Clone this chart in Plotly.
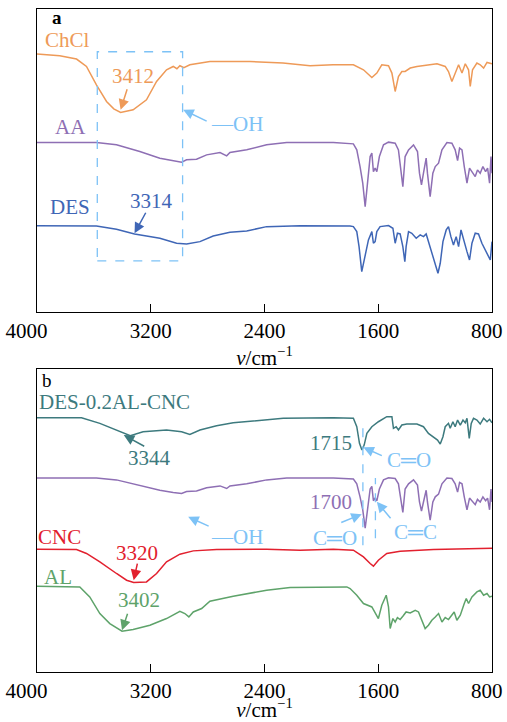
import plotly.graph_objects as go

# ---------------- FTIR spectra (wavenumber in cm-1, transmittance in a.u.) ----------------
# Panel a
chcl_wn = [4000, 3840, 3722, 3652, 3582, 3511, 3460, 3412, 3324, 3230, 3159, 3089, 3042, 3016, 2995,
           2967, 2925, 2854, 2784, 2502, 2270, 2080, 1918, 1775, 1704, 1645, 1610, 1575, 1528, 1504,
           1481, 1458, 1434, 1411, 1375, 1328, 1258, 1187, 1129, 1106, 1082, 1059, 1035, 1011, 988,
           965, 953, 937, 906, 883, 859, 835, 800]
chcl_t = [257.4, 255.7, 252.4, 245.0, 226.7, 210.0, 202.7, 199.0, 201.7, 211.7, 230.0, 241.7, 245.0, 242.7,
          245.7, 243.7, 246.7, 248.4, 250.0, 250.0, 248.4, 245.7, 246.7, 246.7, 241.7, 234.0, 238.4, 246.7,
          245.7, 238.4, 220.0, 235.0, 240.0, 240.0, 243.4, 245.0, 246.7, 247.7, 245.0, 240.0, 230.0, 238.4,
          246.7, 238.4, 247.7, 241.7, 225.0, 241.7, 248.4, 246.7, 243.4, 249.0, 247.7]

aa_wn = [4000, 3582, 3441, 3277, 3136, 3042, 2983, 2948, 2878, 2807, 2713, 2666, 2643, 2525, 2385, 2244,
         1916, 1775, 1751, 1728, 1709, 1692, 1676, 1657, 1645, 1634, 1622, 1610, 1592, 1563, 1528, 1481,
         1458, 1441, 1427, 1411, 1387, 1352, 1324, 1310, 1296, 1282, 1263, 1254, 1235, 1216, 1199, 1176,
         1152, 1117, 1082, 1059, 1042, 1028, 1011, 995, 976, 958, 934, 918, 902, 883, 864, 845, 831, 817,
         807, 800]
aa_t = [169.0, 169.0, 166.7, 160.0, 153.4, 150.7, 149.4, 151.7, 152.4, 156.7, 159.0, 155.7, 159.0, 161.7,
        166.7, 169.0, 169.0, 167.7, 161.7, 145.0, 128.4, 105.0, 125.0, 155.0, 158.4, 140.0, 143.4, 140.0,
        155.0, 166.7, 169.4, 168.4, 161.7, 141.7, 125.0, 155.0, 161.7, 166.7, 160.0, 138.4, 126.7, 138.4,
        153.4, 138.4, 115.0, 138.4, 145.0, 148.4, 161.7, 169.0, 168.4, 161.7, 151.0, 163.4, 161.7, 145.0,
        128.4, 143.4, 138.4, 135.0, 141.7, 138.4, 145.0, 140.0, 143.4, 128.4, 155.0, 138.4]

des_wn = [4000, 3582, 3441, 3314, 3230, 3136, 3018, 2948, 2854, 2761, 2643, 2525, 2385, 2150, 1798, 1775,
          1751, 1735, 1716, 1692, 1669, 1645, 1634, 1622, 1610, 1587, 1528, 1497, 1481, 1465, 1446, 1427,
          1413, 1404, 1387, 1364, 1333, 1305, 1282, 1263, 1247, 1216, 1192, 1180, 1164, 1145, 1122, 1106,
          1089, 1071, 1052, 1035, 1018, 995, 976, 958, 941, 918, 895, 871, 847, 824, 812, 800]
des_t = [86.0, 85.7, 82.4, 77.7, 75.7, 73.4, 68.4, 67.7, 70.0, 75.7, 79.4, 80.7, 85.0, 86.0, 85.7, 85.0,
         80.0, 65.0, 40.0, 55.0, 71.7, 80.0, 68.4, 70.0, 80.0, 85.0, 86.0, 83.4, 68.4, 78.4, 77.7, 65.0,
         50.0, 65.0, 80.0, 78.4, 73.4, 76.7, 75.0, 77.7, 70.0, 55.0, 45.0, 38.4, 48.4, 70.0, 81.7, 85.0,
         75.0, 66.7, 75.0, 65.0, 81.7, 68.4, 60.0, 51.7, 68.4, 78.4, 77.7, 68.4, 61.7, 55.0, 51.7, 70.0]

# Panel b
cnc_comp_wn = [4000, 3687, 3558, 3441, 3344, 3254, 3089, 2983, 2925, 2854, 2737, 2620, 2479, 2268, 1916,
               1775, 1751, 1732, 1715, 1699, 1680, 1645, 1599, 1540, 1504, 1493, 1474, 1458, 1434, 1399,
               1328, 1282, 1247, 1211, 1183, 1164, 1145, 1129, 1106, 1094, 1075, 1059, 1042, 1023, 1004,
               988, 976, 960, 946, 930, 906, 883, 859, 835, 817, 800]
cnc_comp_t = [254.0, 254.0, 248.4, 241.7, 236.0, 240.0, 241.7, 240.0, 237.4, 241.7, 246.0, 249.0, 250.7,
              253.4, 254.0, 253.4, 245.0, 228.4, 221.7, 226.7, 238.4, 245.0, 250.0, 255.0, 255.0, 243.4,
              245.0, 241.7, 246.7, 247.7, 247.7, 245.0, 238.4, 235.0, 231.7, 227.7, 235.0, 245.0, 248.4,
              243.4, 250.0, 245.0, 251.7, 246.7, 251.7, 249.0, 253.4, 233.4, 248.4, 253.4, 251.7, 247.7,
              253.4, 250.0, 252.4, 249.0]

cnc_wn = [4000, 3722, 3652, 3558, 3441, 3370, 3320, 3230, 3159, 3089, 2995, 2901, 2737, 2385, 2150, 1916,
          1775, 1704, 1657, 1634, 1599, 1540, 1446, 1211, 800]
cnc_t = [122.7, 122.4, 118.4, 110.0, 98.4, 91.7, 89.4, 90.0, 98.4, 110.0, 117.7, 121.0, 122.4, 122.7,
         121.7, 122.7, 121.7, 115.0, 108.4, 105.7, 111.7, 118.4, 120.7, 122.4, 123.7]

al_wn = [4000, 3699, 3629, 3558, 3488, 3402, 3324, 3206, 3089, 2995, 2960, 2932, 2901, 2842, 2784, 2620,
         2385, 2220, 1821, 1798, 1751, 1704, 1645, 1599, 1575, 1544, 1528, 1516, 1497, 1481, 1465, 1446,
         1427, 1404, 1375, 1340, 1317, 1293, 1270, 1247, 1223, 1199, 1176, 1152, 1129, 1106, 1082, 1066,
         1047, 1023, 995, 981, 965, 941, 906, 883, 859, 835, 817, 800]
al_t = [85.7, 85.0, 75.0, 58.4, 48.4, 40.7, 42.4, 46.7, 53.4, 60.7, 58.4, 55.0, 60.0, 63.4, 70.7, 75.7,
        81.7, 84.4, 85.0, 83.4, 76.7, 68.4, 65.0, 53.4, 66.7, 76.7, 65.0, 43.4, 53.4, 50.0, 54.4, 52.4,
        55.7, 60.0, 59.0, 61.7, 60.0, 51.7, 43.4, 46.7, 51.7, 55.0, 58.4, 50.0, 54.4, 52.4, 57.7, 60.0,
        51.7, 56.7, 68.4, 73.4, 68.4, 75.0, 80.0, 81.7, 76.7, 78.4, 75.0, 75.7]

tick_vals = [4000, 3200, 2400, 1600, 800]
tick_text = ["4000\u00a0\u00a0\u00a0\u00a0", "3200", "2400", "1600", "800\u00a0\u00a0"]

# ---------------- styling ----------------
FONT = "Liberation Serif"
C_CHCL = "#EE9A58"
C_AA = "#8E6FB4"
C_DES = "#3F66B6"
C_COMP = "#3D7A7E"
C_CNC = "#E2202E"
C_AL = "#5EA36A"
C_MARK = "#7DC2F6"
LW = 1.5

# AA curve is redrawn in panel b with a tighter vertical stacking
AA_B_SCALE = 0.78
AA_B_BASE = 169.0
AA_B_SHIFT = 193.7
aa_b_t = [AA_B_SCALE * (v - AA_B_BASE) + AA_B_SHIFT for v in aa_t]

fig = go.Figure()


def add_line(wn, t, color, xa, ya):
    fig.add_trace(go.Scatter(x=wn, y=t, mode="lines", xaxis=xa, yaxis=ya,
                             line=dict(color=color, width=LW), hoverinfo="skip",
                             showlegend=False))


add_line(chcl_wn, chcl_t, C_CHCL, "x", "y")
add_line(aa_wn, aa_t, C_AA, "x", "y")
add_line(des_wn, des_t, C_DES, "x", "y")
add_line(cnc_comp_wn, cnc_comp_t, C_COMP, "x2", "y2")
add_line(aa_wn, aa_b_t, C_AA, "x2", "y2")
add_line(cnc_wn, cnc_t, C_CNC, "x2", "y2")
add_line(al_wn, al_t, C_AL, "x2", "y2")

xcommon = dict(range=[4000, 800], tickmode="array", tickvals=tick_vals, ticktext=tick_text,
               ticks="inside", ticklen=8, tickwidth=1, tickcolor="black",
               ticklabeloverflow="allow", automargin=False,
               showline=True, mirror=True, linecolor="black", linewidth=1.2,
               showgrid=False, zeroline=False,
               tickfont=dict(family=FONT, size=21, color="black"),
               title=dict(text="<i>ν</i>/cm<sup>−1</sup>", standoff=7,
                          font=dict(family=FONT, size=21, color="black")))
ycommon = dict(range=[0, 302.4], showline=True, mirror=True, linecolor="black", linewidth=1.2,
               showgrid=False, zeroline=False, showticklabels=False, ticks="", automargin=False)

fig.update_layout(
    width=507, height=722,
    margin=dict(l=37, r=15, t=9, b=50, autoexpand=False),
    font=dict(family=FONT, size=21, color="black"),
    paper_bgcolor="white", plot_bgcolor="white",
    xaxis=dict(domain=[0, 1], anchor="y", **xcommon),
    xaxis2=dict(domain=[0, 1], anchor="y2", **xcommon),
    yaxis=dict(domain=[0.5434, 1], anchor="x", **ycommon),
    yaxis2=dict(domain=[0, 0.4566], anchor="x2", **ycommon),
)

# dashed guides
fig.add_shape(type="rect", xref="x", yref="y", x0=3576, x1=2976, y0=50.7, y1=259.7,
              line=dict(color=C_MARK, width=1.3, dash="dash"))
fig.add_shape(type="line", xref="x2", yref="y2", x0=1708, x1=1708, y0=126.7, y1=251.7,
              line=dict(color=C_MARK, width=1.3, dash="dash"))
fig.add_shape(type="line", xref="x2", yref="y2", x0=1620, x1=1620, y0=133.7, y1=193.7,
              line=dict(color=C_MARK, width=1.3, dash="dash"))


def label(text, x, y, color, xa="x", ya="y", size=21):
    fig.add_annotation(text=text, x=x, y=y, xref=xa, yref=ya, showarrow=False,
                       font=dict(family=FONT, size=size, color=color),
                       xanchor="center", yanchor="middle", borderpad=0)


def arrow(x, y, ax, ay, color, xa="x", ya="y"):
    fig.add_annotation(text="", x=x, y=y, xref=xa, yref=ya, ax=ax, ay=ay,
                       showarrow=True, arrowhead=2, arrowsize=1.4, arrowwidth=1.5,
                       arrowcolor=color)


# panel a texts
label("<b>a</b>", 3861, 293.5, "black", size=19)
label("ChCl", 3784, 271.0, C_CHCL)
label("3412", 3326, 235.7, C_CHCL)
arrow(3412, 201.7, 7, -22, C_CHCL)
label("—OH", 2594, 187.7, C_MARK)
arrow(2972, 201.7, 25, 12, C_MARK)
label("AA", 3763, 184.7, C_AA)
label("DES", 3770, 104.7, C_DES)
label("3314", 3192, 110.7, C_DES)
arrow(3314, 78.4, 12, -22, C_DES)

# panel b texts
label("b", 3932, 291.5, "black", "x2", "y2", size=19)
label("DES-0.2AL-CNC", 3453, 270.0, C_COMP, "x2", "y2")
label("3344", 3206, 213.7, C_COMP, "x2", "y2")
arrow(3390, 236.7, 22, 12, C_COMP, "x2", "y2")
label("1715", 1932, 228.7, C_COMP, "x2", "y2")
label("C═O", 1382, 211.7, C_MARK, "x2", "y2")
arrow(1705, 224.4, 20, 9, C_MARK, "x2", "y2")
label("1700", 1932, 169.7, C_AA, "x2", "y2")
label("C═O", 1904, 133.7, C_MARK, "x2", "y2")
arrow(1716, 157.7, -22, 9, C_MARK, "x2", "y2")
label("C═C", 1340, 139.7, C_MARK, "x2", "y2")
arrow(1610, 170.0, 15, 18, C_MARK, "x2", "y2")
label("—OH", 2594, 134.7, C_MARK, "x2", "y2")
arrow(2937, 155.0, 22, 10, C_MARK, "x2", "y2")
label("CNC", 3840, 134.7, C_CNC, "x2", "y2")
label("3320", 3298, 118.7, C_CNC, "x2", "y2")
arrow(3320, 91.7, 4, -18, C_CNC, "x2", "y2")
label("AL", 3854, 94.7, C_AL, "x2", "y2")
label("3402", 3284, 71.7, C_AL, "x2", "y2")
arrow(3402, 41.7, 6, -18, C_AL, "x2", "y2")

fig.write_html("out.html")
